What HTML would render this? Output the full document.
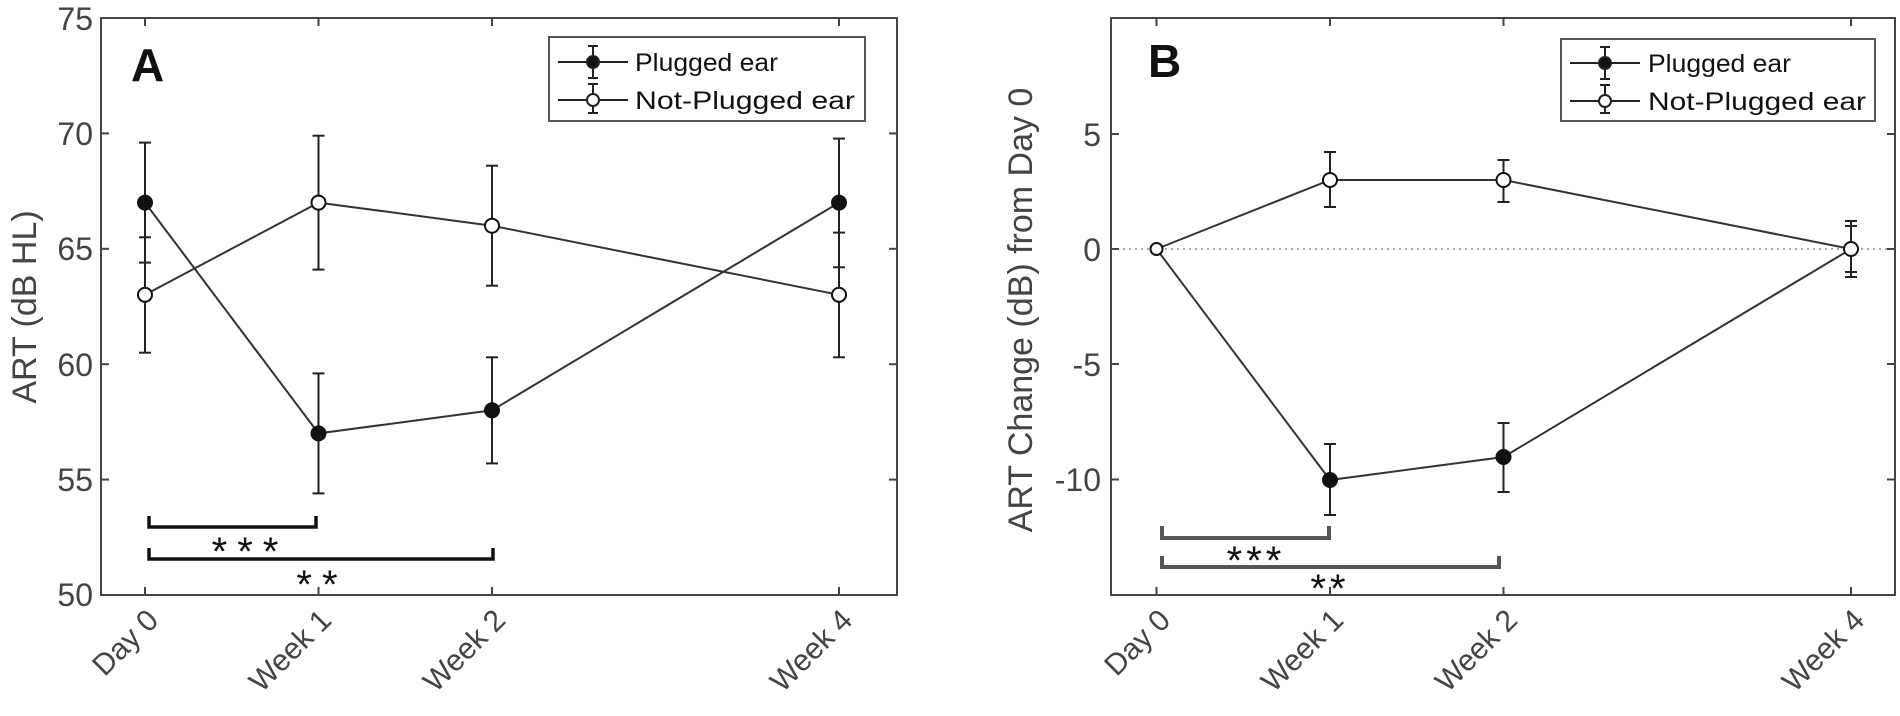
<!DOCTYPE html>
<html><head><meta charset="utf-8"><style>
html,body{margin:0;padding:0;background:#fff;}
svg{display:block;font-family:"Liberation Sans",Arial,sans-serif;}
</style></head><body>
<svg width="1900" height="716" viewBox="0 0 1900 716" xmlns="http://www.w3.org/2000/svg">
<g id="A">
  <rect x="101" y="18" width="796" height="577" fill="none" stroke="#444" stroke-width="2"/>
  <g stroke="#444" stroke-width="2">
    <line x1="101" y1="18" x2="109" y2="18"/><line x1="101" y1="133.4" x2="109" y2="133.4"/><line x1="101" y1="248.8" x2="109" y2="248.8"/><line x1="101" y1="364.2" x2="109" y2="364.2"/><line x1="101" y1="479.6" x2="109" y2="479.6"/>
    <line x1="897" y1="133.4" x2="889" y2="133.4"/><line x1="897" y1="248.8" x2="889" y2="248.8"/><line x1="897" y1="364.2" x2="889" y2="364.2"/><line x1="897" y1="479.6" x2="889" y2="479.6"/>
    <line x1="145" y1="595" x2="145" y2="587"/><line x1="318.5" y1="595" x2="318.5" y2="587"/><line x1="492" y1="595" x2="492" y2="587"/><line x1="839" y1="595" x2="839" y2="587"/>
    <line x1="145" y1="18" x2="145" y2="26"/><line x1="318.5" y1="18" x2="318.5" y2="26"/><line x1="492" y1="18" x2="492" y2="26"/><line x1="839" y1="18" x2="839" y2="26"/>
  </g>
  <g fill="#444" font-size="32" text-anchor="end">
    <text x="93" y="30">75</text><text x="93" y="145">70</text><text x="93" y="260">65</text><text x="93" y="376">60</text><text x="93" y="491">55</text><text x="93" y="606">50</text>
  </g>
  <text transform="translate(36,307) rotate(-90)" text-anchor="middle" font-size="34" fill="#444">ART (dB HL)</text>
  <g fill="#444" font-size="30" text-anchor="end">
    <text transform="translate(160,622) rotate(-45)">Day 0</text>
    <text transform="translate(333,622) rotate(-45)">Week 1</text>
    <text transform="translate(507,622) rotate(-45)">Week 2</text>
    <text transform="translate(854,622) rotate(-45)">Week 4</text>
  </g>
  <text x="131" y="81" font-size="46" font-weight="bold" fill="#111">A</text>
  <g stroke="#222" stroke-width="2">
    <line x1="145" y1="142.6" x2="145" y2="262.6"/><line x1="139" y1="142.6" x2="151" y2="142.6"/><line x1="139" y1="262.6" x2="151" y2="262.6"/>
    <line x1="318.5" y1="373.4" x2="318.5" y2="493.4"/><line x1="312.5" y1="373.4" x2="324.5" y2="373.4"/><line x1="312.5" y1="493.4" x2="324.5" y2="493.4"/>
    <line x1="492" y1="357.3" x2="492" y2="463.4"/><line x1="486" y1="357.3" x2="498" y2="357.3"/><line x1="486" y1="463.4" x2="498" y2="463.4"/>
    <line x1="839" y1="138.6" x2="839" y2="267.3"/><line x1="833" y1="138.6" x2="845" y2="138.6"/><line x1="833" y1="267.3" x2="845" y2="267.3"/>
    <line x1="145" y1="237.3" x2="145" y2="352.7"/><line x1="139" y1="237.3" x2="151" y2="237.3"/><line x1="139" y1="352.7" x2="151" y2="352.7"/>
    <line x1="318.5" y1="135.7" x2="318.5" y2="269.6"/><line x1="312.5" y1="135.7" x2="324.5" y2="135.7"/><line x1="312.5" y1="269.6" x2="324.5" y2="269.6"/>
    <line x1="492" y1="165.7" x2="492" y2="285.7"/><line x1="486" y1="165.7" x2="498" y2="165.7"/><line x1="486" y1="285.7" x2="498" y2="285.7"/>
    <line x1="839" y1="232.6" x2="839" y2="357.3"/><line x1="833" y1="232.6" x2="845" y2="232.6"/><line x1="833" y1="357.3" x2="845" y2="357.3"/>
  </g>
  <polyline points="145,202.6 318.5,433.4 492,410.3 839,202.6" fill="none" stroke="#333" stroke-width="2"/>
  <polyline points="145,294.8 318.5,202.6 492,225.7 839,294.8" fill="none" stroke="#333" stroke-width="2"/>
  <g stroke="#111" stroke-width="2">
    <circle cx="145" cy="202.6" r="7" fill="#111"/><circle cx="318.5" cy="433.4" r="7" fill="#111"/><circle cx="492" cy="410.3" r="7" fill="#111"/><circle cx="839" cy="202.6" r="7" fill="#111"/>
    <circle cx="145" cy="294.8" r="7" fill="#fff"/><circle cx="318.5" cy="202.6" r="7" fill="#fff"/><circle cx="492" cy="225.7" r="7" fill="#fff"/><circle cx="839" cy="294.8" r="7" fill="#fff"/>
  </g>
  <g stroke="#111" stroke-width="3.5" fill="none">
    <polyline points="149,516 149,527 316,527 316,516"/>
    <polyline points="149,548 149,559 493,559 493,548"/>
  </g>
  <g font-size="40" fill="#111" text-anchor="middle">
    <text x="250" y="565" letter-spacing="10">***</text>
    <text x="322" y="598" letter-spacing="10">**</text>
  </g>
  <rect x="549" y="37" width="316" height="84" fill="#fff" stroke="#555" stroke-width="2"/>
  <g stroke="#222" stroke-width="2">
    <line x1="558" y1="62" x2="628" y2="62"/><line x1="593" y1="46" x2="593" y2="78"/><line x1="588" y1="46" x2="598" y2="46"/><line x1="588" y1="78" x2="598" y2="78"/>
    <circle cx="593" cy="62" r="6" fill="#111"/>
    <line x1="558" y1="100" x2="628" y2="100"/><line x1="593" y1="84" x2="593" y2="113"/><line x1="588" y1="84" x2="598" y2="84"/><line x1="588" y1="113" x2="598" y2="113"/>
    <circle cx="593" cy="100" r="6" fill="#fff"/>
  </g>
  <g font-size="25" fill="#111">
    <text x="635" y="71" textLength="143" lengthAdjust="spacingAndGlyphs">Plugged ear</text>
    <text x="635" y="109" textLength="220" lengthAdjust="spacingAndGlyphs">Not-Plugged ear</text>
  </g>
</g>

<g id="B">
  <rect x="1111" y="18" width="784" height="577" fill="none" stroke="#444" stroke-width="2"/>
  <line x1="1111" y1="249" x2="1895" y2="249" stroke="#888" stroke-width="1.5" stroke-dasharray="2,4"/>
  <g stroke="#444" stroke-width="2">
    <line x1="1111" y1="134" x2="1119" y2="134"/><line x1="1111" y1="249" x2="1119" y2="249"/><line x1="1111" y1="364" x2="1119" y2="364"/><line x1="1111" y1="479.5" x2="1119" y2="479.5"/>
    <line x1="1895" y1="134" x2="1887" y2="134"/><line x1="1895" y1="249" x2="1887" y2="249"/><line x1="1895" y1="364" x2="1887" y2="364"/><line x1="1895" y1="479.5" x2="1887" y2="479.5"/>
    <line x1="1156.5" y1="595" x2="1156.5" y2="587"/><line x1="1330" y1="595" x2="1330" y2="587"/><line x1="1503.5" y1="595" x2="1503.5" y2="587"/><line x1="1851" y1="595" x2="1851" y2="587"/>
    <line x1="1156.5" y1="18" x2="1156.5" y2="26"/><line x1="1330" y1="18" x2="1330" y2="26"/><line x1="1503.5" y1="18" x2="1503.5" y2="26"/><line x1="1851" y1="18" x2="1851" y2="26"/>
  </g>
  <g fill="#444" font-size="32" text-anchor="end">
    <text x="1101" y="146">5</text><text x="1101" y="261">0</text><text x="1101" y="376">-5</text><text x="1101" y="491">-10</text>
  </g>
  <text transform="translate(1032,310) rotate(-90)" text-anchor="middle" font-size="34" fill="#444">ART Change (dB) from Day 0</text>
  <g fill="#444" font-size="30" text-anchor="end">
    <text transform="translate(1172,622) rotate(-45)">Day 0</text>
    <text transform="translate(1345,622) rotate(-45)">Week 1</text>
    <text transform="translate(1519,622) rotate(-45)">Week 2</text>
    <text transform="translate(1866,622) rotate(-45)">Week 4</text>
  </g>
  <text x="1148" y="77" font-size="46" font-weight="bold" fill="#111">B</text>
  <g stroke="#222" stroke-width="2">
    <line x1="1330" y1="444" x2="1330" y2="515"/><line x1="1324" y1="444" x2="1336" y2="444"/><line x1="1324" y1="515" x2="1336" y2="515"/>
    <line x1="1503.5" y1="423" x2="1503.5" y2="492"/><line x1="1497.5" y1="423" x2="1509.5" y2="423"/><line x1="1497.5" y1="492" x2="1509.5" y2="492"/>
    <line x1="1851" y1="226" x2="1851" y2="272"/><line x1="1845" y1="226" x2="1857" y2="226"/><line x1="1845" y1="272" x2="1857" y2="272"/>
    <line x1="1330" y1="152" x2="1330" y2="207"/><line x1="1324" y1="152" x2="1336" y2="152"/><line x1="1324" y1="207" x2="1336" y2="207"/>
    <line x1="1503.5" y1="160" x2="1503.5" y2="202"/><line x1="1497.5" y1="160" x2="1509.5" y2="160"/><line x1="1497.5" y1="202" x2="1509.5" y2="202"/>
    <line x1="1851" y1="221" x2="1851" y2="277"/><line x1="1845" y1="221" x2="1857" y2="221"/><line x1="1845" y1="277" x2="1857" y2="277"/>
  </g>
  <polyline points="1156.5,249 1330,480 1503.5,457 1851,249" fill="none" stroke="#333" stroke-width="2"/>
  <polyline points="1156.5,249 1330,180 1503.5,180 1851,249" fill="none" stroke="#333" stroke-width="2"/>
  <g stroke="#111" stroke-width="2">
    <circle cx="1330" cy="480" r="7" fill="#111"/><circle cx="1503.5" cy="457" r="7" fill="#111"/>
    <circle cx="1156.5" cy="249" r="6" fill="#fff"/><circle cx="1330" cy="180" r="7" fill="#fff"/><circle cx="1503.5" cy="180" r="7" fill="#fff"/><circle cx="1851" cy="249" r="7" fill="#fff"/>
  </g>
  <g stroke="#555" stroke-width="4" fill="none">
    <polyline points="1162,526 1162,538 1329,538 1329,526"/>
    <polyline points="1162,556 1162,567 1499,567 1499,556"/>
  </g>
  <g font-size="40" fill="#111" text-anchor="middle">
    <text x="1256" y="574" letter-spacing="4">***</text>
    <text x="1330" y="602" letter-spacing="4">**</text>
  </g>
  <rect x="1561" y="39" width="314" height="82" fill="#fff" stroke="#555" stroke-width="2"/>
  <g stroke="#222" stroke-width="2">
    <line x1="1570" y1="63" x2="1640" y2="63"/><line x1="1605" y1="47" x2="1605" y2="79"/><line x1="1600" y1="47" x2="1610" y2="47"/><line x1="1600" y1="79" x2="1610" y2="79"/>
    <circle cx="1605" cy="63" r="6" fill="#111"/>
    <line x1="1570" y1="101" x2="1640" y2="101"/><line x1="1605" y1="85" x2="1605" y2="113"/><line x1="1600" y1="85" x2="1610" y2="85"/><line x1="1600" y1="113" x2="1610" y2="113"/>
    <circle cx="1605" cy="101" r="6" fill="#fff"/>
  </g>
  <g font-size="25" fill="#111">
    <text x="1648" y="72" textLength="143" lengthAdjust="spacingAndGlyphs">Plugged ear</text>
    <text x="1648" y="110" textLength="218" lengthAdjust="spacingAndGlyphs">Not-Plugged ear</text>
  </g>
</g>
</svg>
</body></html>
